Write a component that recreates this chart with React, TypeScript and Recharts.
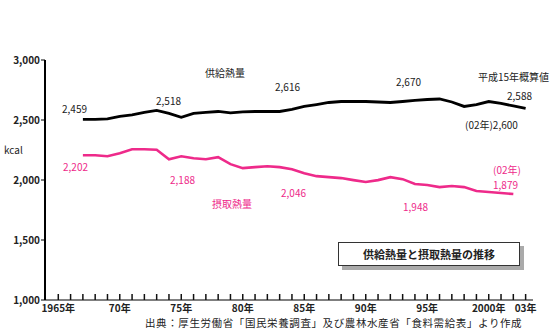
import React from 'react';
import { LineChart, Line, XAxis, YAxis } from 'recharts';

// 供給熱量・摂取熱量 (kcal/人/日)
const years = [
  1967, 1968, 1969, 1970, 1971, 1972, 1973, 1974, 1975, 1976, 1977, 1978, 1979,
  1980, 1981, 1982, 1983, 1984, 1985, 1986, 1987, 1988, 1989, 1990, 1991, 1992,
  1993, 1994, 1995, 1996, 1997, 1998, 1999, 2000, 2001, 2002, 2003,
];
const supply = [
  2505, 2505, 2509, 2530, 2542, 2563, 2580, 2555, 2522, 2555, 2563, 2571, 2559,
  2567, 2571, 2571, 2571, 2588, 2613, 2629, 2646, 2654, 2654, 2654, 2650, 2646,
  2654, 2663, 2671, 2675, 2650, 2613, 2629, 2654, 2638, 2617, 2596,
];
const intake = [
  2206, 2206, 2198, 2223, 2256, 2256, 2252, 2173, 2198, 2181, 2173, 2190, 2132,
  2099, 2107, 2115, 2107, 2090, 2057, 2032, 2024, 2016, 1999, 1983, 1999, 2024,
  2007, 1966, 1958, 1941, 1950, 1941, 1908, 1900, 1892, 1883,
];

const xTicks = [
  1965, 1966, 1967, 1968, 1969, 1970, 1971, 1972, 1973, 1974, 1975, 1976, 1977,
  1978, 1979, 1980, 1981, 1982, 1983, 1984, 1985, 1986, 1987, 1988, 1989, 1990,
  1991, 1992, 1993, 1994, 1995, 1996, 1997, 1998, 1999, 2000, 2001, 2002, 2003,
];
const xLabels: Record<number, string> = {
  1965: '1965年',
  1970: '70年',
  1975: '75年',
  1980: '80年',
  1985: '85年',
  1990: '90年',
  1995: '95年',
  2000: '2000年',
  2003: '03年',
};
const yTicks = [1000, 1500, 2000, 2500, 3000];

const data = years.map((year, i) => ({
  year,
  supply: supply[i],
  intake: intake[i] ?? null,
}));

const FONT = '"Noto Sans CJK JP", "Noto Sans", sans-serif';
const PINK = '#ee2a8a';

// small upward tick for every year, label every 5 years
function YearTick(props: any) {
  const { x, y, payload } = props;
  const label = xLabels[payload.value];
  return (
    <g>
      <path d={`M${x},${y - 6}L${x},${y}`} stroke="#111" strokeWidth={1.5} fill="none" />
      {label && (
        <text
          x={x}
          y={y + 12}
          textAnchor="middle"
          fontSize={10}
          fontWeight="bold"
          fill="#222"
          fontFamily={FONT}
        >
          {label}
        </text>
      )}
    </g>
  );
}

function Note({ x, y, color = '#222', size = 10, spacing = 0, children }: any) {
  return (
    <div
      style={{
        position: 'absolute',
        left: x,
        top: y,
        color,
        fontSize: size,
        letterSpacing: spacing,
        lineHeight: 1,
        whiteSpace: 'nowrap',
        fontFamily: FONT,
      }}
    >
      {children}
    </div>
  );
}

export default function App() {
  return (
    <div
      style={{
        position: 'absolute',
        left: 0,
        top: 0,
        width: 554,
        height: 329,
        background: '#fff',
        fontFamily: FONT,
      }}
    >
      <LineChart
        width={554}
        height={329}
        data={data}
        margin={{ top: 60, right: 21, left: 0, bottom: 0 }}
      >
        <XAxis
          type="number"
          dataKey="year"
          domain={[1963.92, 2003.6]}
          ticks={xTicks}
          interval={0}
          height={29}
          tickSize={0}
          tickMargin={0}
          tickLine={false}
          axisLine={{ stroke: '#000', strokeWidth: 1 }}
          tick={<YearTick />}
        />
        <YAxis
          domain={[1000, 3000]}
          ticks={yTicks}
          width={45}
          tickSize={4}
          tickMargin={1}
          axisLine={{ stroke: '#000', strokeWidth: 2 }}
          tickLine={{ stroke: '#000' }}
          tickFormatter={(v: number) => v.toLocaleString('en-US')}
          tick={{ fontSize: 10, fontWeight: 'bold', fill: '#222', fontFamily: FONT }}
        />
        <Line
          dataKey="supply"
          stroke="#000"
          strokeWidth={2.8}
          dot={false}
          type="linear"
          isAnimationActive={false}
        />
        <Line
          dataKey="intake"
          stroke={PINK}
          strokeWidth={2.6}
          dot={false}
          type="linear"
          connectNulls={false}
          isAnimationActive={false}
        />
      </LineChart>

      <Note x={4} y={145}>kcal</Note>

      {/* 供給熱量 */}
      <Note x={62} y={104}>2,459</Note>
      <Note x={156} y={96}>2,518</Note>
      <Note x={205} y={68}>供給熱量</Note>
      <Note x={275} y={82}>2,616</Note>
      <Note x={396} y={77}>2,670</Note>
      <Note x={478} y={72}>平成15年概算値</Note>
      <Note x={507} y={91}>2,588</Note>
      <Note x={465} y={120}>(02年)2,600</Note>

      {/* 摂取熱量 */}
      <Note x={63} y={162} color={PINK}>2,202</Note>
      <Note x={170} y={175} color={PINK}>2,188</Note>
      <Note x={212} y={199} color={PINK}>摂取熱量</Note>
      <Note x={281} y={188} color={PINK}>2,046</Note>
      <Note x={403} y={202} color={PINK}>1,948</Note>
      <Note x={493} y={165} color={PINK}>(02年)</Note>
      <Note x={493} y={180} color={PINK}>1,879</Note>

      <div
        style={{
          position: 'absolute',
          left: 338,
          top: 242,
          width: 180,
          height: 22,
          border: '1px solid #333',
          boxShadow: '4px 4px 0 #aaa',
          background: '#fff',
          fontSize: 11,
          fontWeight: 'bold',
          lineHeight: '22px',
          textAlign: 'center',
          color: '#222',
        }}
      >
        供給熱量と摂取熱量の推移
      </div>

      <Note x={145} y={317.5} size={10.5} spacing={0.6}>
        出典：厚生労働省「国民栄養調査」及び農林水産省「食料需給表」より作成
      </Note>
    </div>
  );
}
